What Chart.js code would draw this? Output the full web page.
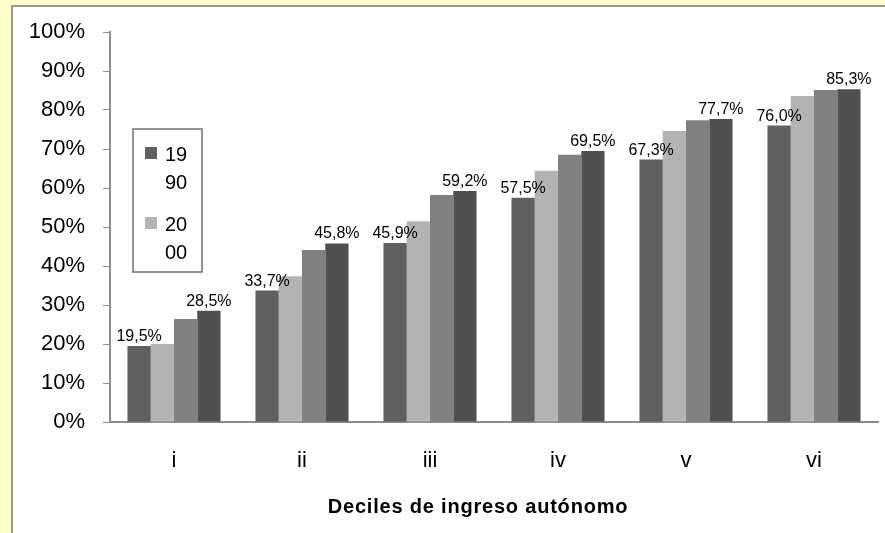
<!DOCTYPE html>
<html>
<head>
<meta charset="utf-8">
<script src="https://cdn.jsdelivr.net/npm/chart.js@4.4.1/dist/chart.umd.min.js"></script>
<style>
  html, body { margin: 0; padding: 0; width: 885px; height: 533px; overflow: hidden; background: #ffffcc; }
  #frame {
    position: absolute; left: 11px; top: 5px; right: 0; bottom: 0;
    background: #fff; border-left: 2px solid #969696; border-top: 2px solid #969696;
  }
  #wrap { position: absolute; left: 0; top: 0; width: 885px; height: 533px; }
</style>
</head>
<body>
<div id="frame"></div>
<div id="wrap"><canvas id="chart" width="885" height="533"></canvas></div>
<script>
/* DATA */
const deciles = ["i", "ii", "iii", "iv", "v", "vi"];
const seriesNames = ["1990", "2000", "2003", "2006"];
const s1990 = [19.5, 33.7, 45.9, 57.5, 67.3, 76.0];
const s2000 = [20.0, 37.4, 51.5, 64.4, 74.6, 83.6];
const s2003 = [26.4, 44.1, 58.2, 68.5, 77.4, 85.1];
const s2006 = [28.5, 45.8, 59.2, 69.5, 77.7, 85.3];
const yTicks = [0, 10, 20, 30, 40, 50, 60, 70, 80, 90, 100];
const xTitle = "Deciles de ingreso autónomo";

const colors = ["#606060", "#b3b3b3", "#808080", "#505050"];
const labelled = [0, 3];      // series that carry value labels
const inLegend = [0, 1];      // series shown in the legend box
const axisGray = "#8c8c8c";

const fmt = v => v.toFixed(1).replace(".", ",") + "%";

/* PLUGINS */
const valueLabels = {
  id: "valueLabels",
  afterDatasetsDraw(c) {
    const ctx = c.ctx;
    ctx.save();
    ctx.font = "16px 'Liberation Sans', Arial, sans-serif";
    ctx.fillStyle = "#000";
    ctx.textAlign = "center";
    ctx.textBaseline = "alphabetic";
    labelled.forEach(di => {
      c.getDatasetMeta(di).data.forEach((bar, i) => {
        ctx.fillText(fmt(c.data.datasets[di].data[i]), bar.x, bar.y - 5);
      });
    });
    ctx.restore();
  }
};

const legendBox = {
  id: "legendBox",
  afterDraw(c) {
    const ctx = c.ctx;
    ctx.save();
    ctx.fillStyle = "#fff";
    ctx.strokeStyle = "#707070";
    ctx.lineWidth = 1.5;
    ctx.fillRect(133, 129, 69, 143);
    ctx.strokeRect(133, 129, 69, 143);
    ctx.font = "20px 'Liberation Sans', Arial, sans-serif";
    ctx.textBaseline = "middle";
    ctx.textAlign = "left";
    inLegend.forEach((di, k) => {
      const top = 147 + k * 70;
      const name = c.data.datasets[di].label;
      ctx.fillStyle = c.data.datasets[di].backgroundColor;
      ctx.fillRect(145, top, 12, 12);
      ctx.fillStyle = "#000";
      ctx.fillText(name.slice(0, 2), 165, top + 8);
      ctx.fillText(name.slice(2), 165, top + 36);
    });
    ctx.restore();
  }
};

const axisTitle = {
  id: "axisTitle",
  afterDraw(c) {
    const ctx = c.ctx;
    ctx.save();
    ctx.font = "bold 20px 'Liberation Sans', Arial, sans-serif";
    ctx.letterSpacing = "0.8px";
    ctx.fillStyle = "#000";
    ctx.textAlign = "center";
    ctx.textBaseline = "middle";
    ctx.fillText(xTitle, 478, 507);
    ctx.restore();
  }
};

/* CHART */
const seriesData = [s1990, s2000, s2003, s2006];
const chart = new Chart(document.getElementById("chart"), {
  type: "bar",
  data: {
    labels: deciles,
    datasets: seriesData.map((d, i) => ({
      label: seriesNames[i],
      data: d,
      backgroundColor: colors[i],
      borderWidth: 0,
      categoryPercentage: 0.727,
      barPercentage: 1.0
    }))
  },
  options: {
    responsive: false,
    animation: false,
    layout: { padding: { left: 0, right: 7, top: 32, bottom: 0 } },
    plugins: { legend: { display: false }, tooltip: { enabled: false } },
    scales: {
      x: {
        grid: { display: false, drawTicks: false },
        border: { display: true, color: axisGray, width: 2 },
        ticks: {
          color: "#000",
          padding: 26,
          font: { family: "'Liberation Sans', Arial, sans-serif", size: 22 }
        },
        afterFit: s => { s.height = 111; }
      },
      y: {
        min: 0,
        max: 100,
        afterBuildTicks: s => { s.ticks = yTicks.map(v => ({ value: v })); },
        grid: { drawOnChartArea: false, drawTicks: true, tickLength: 7, color: axisGray, lineWidth: 1 },
        border: { display: true, color: axisGray, width: 2 },
        ticks: {
          color: "#000",
          padding: 18,
          font: { family: "'Liberation Sans', Arial, sans-serif", size: 22 },
          callback: v => v + "%"
        },
        afterFit: s => { s.width = 110; }
      }
    }
  },
  plugins: [valueLabels, legendBox, axisTitle]
});
</script>
</body>
</html>
